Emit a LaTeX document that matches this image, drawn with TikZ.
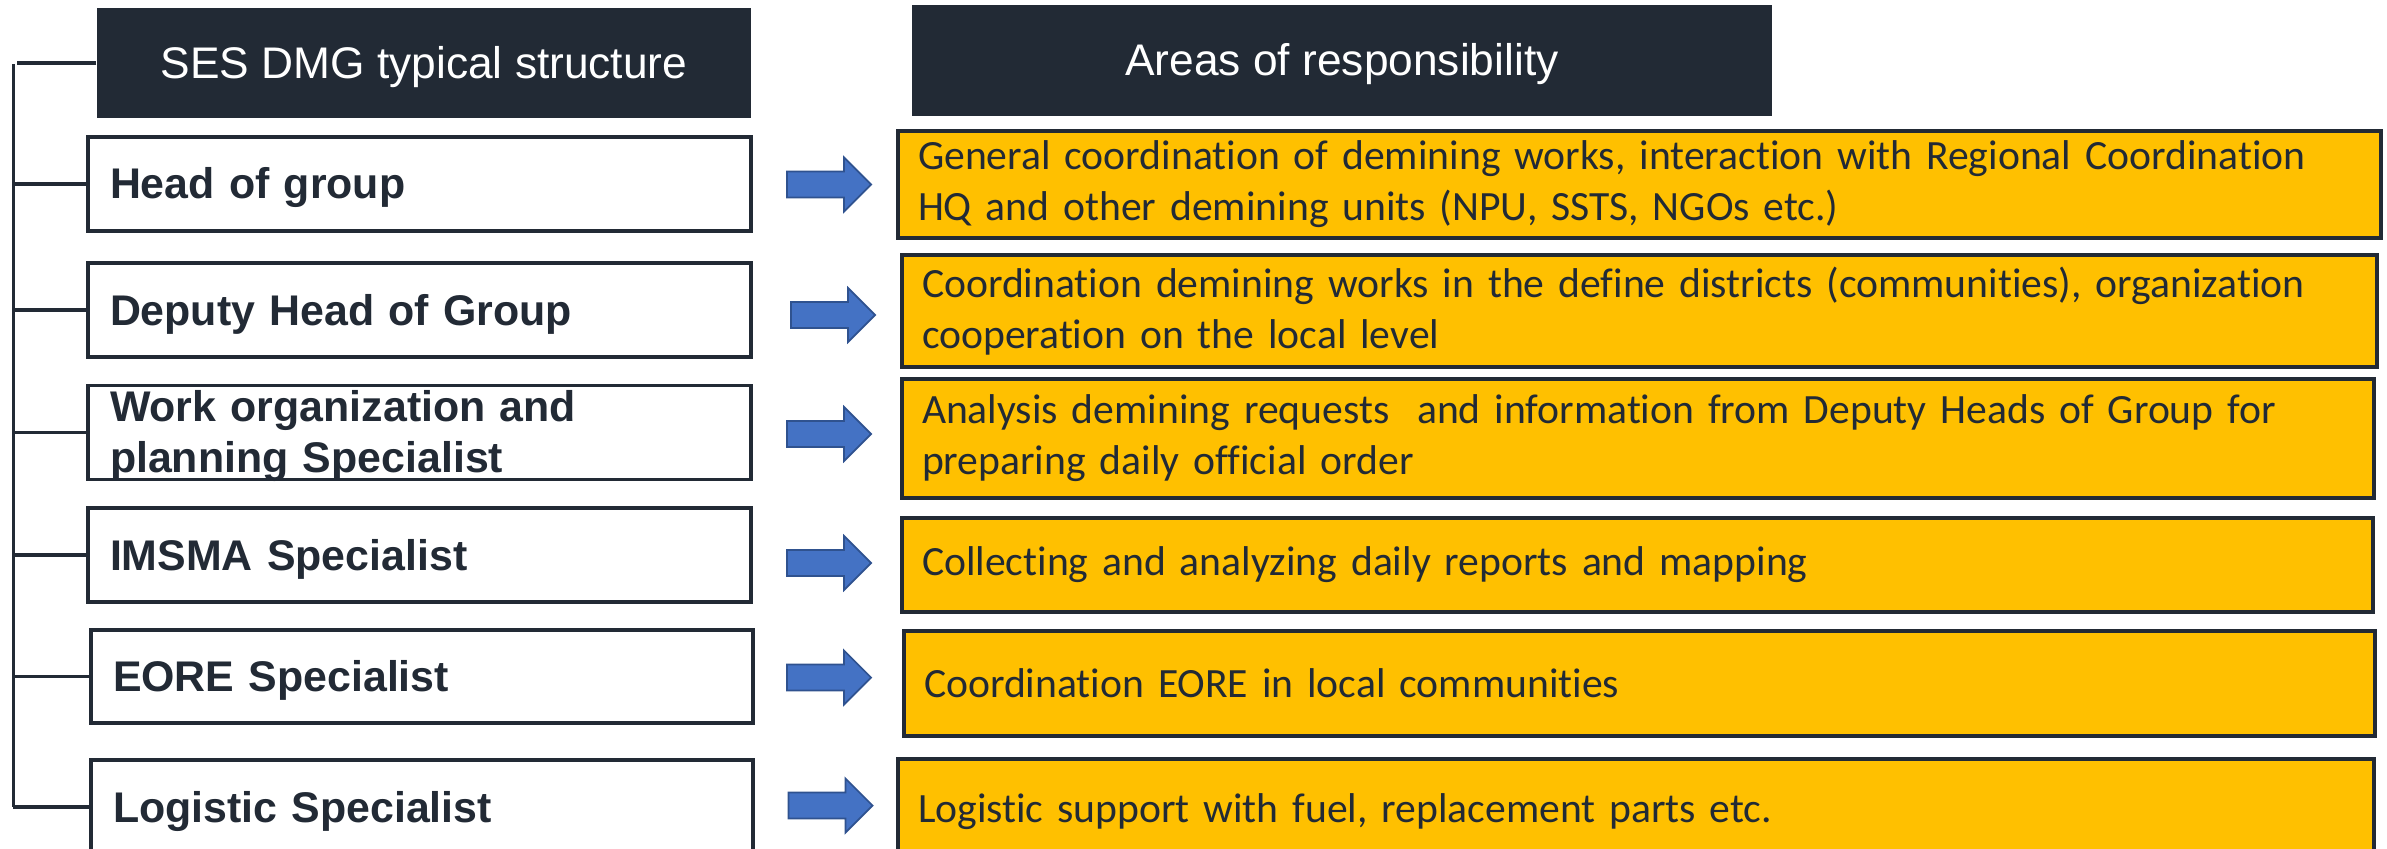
\documentclass[tikz,border=0pt]{standalone}
\usepackage{fontspec}
\setmainfont{Carlito}[Ligatures={NoCommon}]
\newfontfamily\labfont{Liberation Sans}
\definecolor{dark}{HTML}{222A35}
\definecolor{gold}{HTML}{FFC000}
\definecolor{arrowblue}{HTML}{4472C4}
\definecolor{arrowedge}{HTML}{2F528F}
\newcommand{\blockarrowat}[1]{%
  \filldraw[blockarrow] (#1) ++(-0.42,0.13) -- ++(0.57,0) -- ++(0,0.14)
    -- ++(0.27,-0.27) -- ++(-0.27,-0.27) -- ++(0,0.14) -- ++(-0.57,0) -- cycle;}
\begin{document}
\begin{tikzpicture}[
  hdr/.style={fill=dark, draw=none, text=white, inner sep=0pt,
    font=\labfont\fontsize{12.6}{15}\selectfont, text height=0.31cm, text depth=0cm},
  rolebox/.style={draw=dark, line width=0.9pt, fill=white, minimum height=0.94cm,
    text width=6.19cm, inner xsep=0.22cm, inner ysep=0pt, align=left, text=dark,
    font=\labfont\bfseries\fontsize{12.2}{14.5}\selectfont},
  oneline/.style={text height=0.30cm, text depth=0cm},
  dutybox/.style={draw=dark, line width=0.9pt, fill=gold, inner xsep=0.2cm,
    inner ysep=0pt, align=left, text=dark, font=\fontsize{11.85}{14.5}\selectfont},
  blockarrow/.style={fill=arrowblue, draw=arrowedge, line width=0.5pt, line join=miter},
  tree/.style={draw=dark, line width=1.1pt}
]
\useasboundingbox (0,0) rectangle (23.87,-8.49);
\clip (0,0) rectangle (23.87,-8.49);

% headers
\node[hdr, minimum width=6.54cm, minimum height=1.10cm] (hdr1) at (4.24,-0.63) {SES DMG typical structure};
\node[hdr, minimum width=8.60cm, minimum height=1.11cm] (hdr2) at (13.42,-0.605) {Areas of responsibility};

% roles
\node[rolebox, oneline] (r1) at (4.195,-1.84) {Head of group};
\node[rolebox, oneline] (r2) at (4.195,-3.10) {Deputy Head of Group};
\node[rolebox, minimum height=0.93cm, text height=0.36cm, text depth=0.58cm] (r3) at (4.195,-4.325) {Work organization and\\planning Specialist};
\node[rolebox, oneline] (r4) at (4.195,-5.55) {IMSMA Specialist};
\node[rolebox, oneline, minimum height=0.93cm, text width=6.18cm] (r5) at (4.22,-6.765) {EORE Specialist};
\node[rolebox, oneline, text width=6.18cm] (r6) at (4.22,-8.07) {Logistic Specialist};

% tree connectors
\coordinate (vtop) at (0.135,-0.64);
\coordinate (vbot) at (0.135,-8.07);
\draw[tree] (vtop) -- (vbot);
\draw[tree] (hdr1.west) -- ++(-0.79,0);
\foreach \n in {r1,r2,r3,r4,r5,r6}{
  \draw[tree] (\n.west) -- (\n.west -| vtop);
}

% duties
\node[dutybox, text width=14.43cm, minimum height=1.07cm] (d1) at (16.395,-1.845)
  {General coordination of demining works, interaction with Regional Coordination\\HQ and other demining units (NPU, SSTS, NGOs etc.)};
\node[dutybox, text width=14.35cm, minimum height=1.12cm] (d2) at (16.395,-3.11)
  {Coordination demining works in the define districts (communities), organization\\cooperation on the local level};
\node[dutybox, text width=14.32cm, minimum height=1.19cm] (d3) at (16.38,-4.385)
  {Analysis demining requests\ \ and information from Deputy Heads of Group for\\preparing daily official order};
\node[dutybox, text width=14.31cm, minimum height=0.94cm] (d4) at (16.375,-5.65)
  {Collecting and analyzing daily reports and mapping};
\node[dutybox, text width=14.31cm, minimum height=1.05cm] (d5) at (16.395,-6.835)
  {Coordination EORE in local communities};
\node[dutybox, text width=14.36cm, minimum height=1.05cm] (d6) at (16.36,-8.115)
  {Logistic support with fuel, replacement parts etc.};

% block arrows
\coordinate (a1) at (8.29,-1.845);
\coordinate (a2) at (8.33,-3.15);
\coordinate (a3) at (8.29,-4.34);
\coordinate (a4) at (8.29,-5.63);
\coordinate (a5) at (8.29,-6.775);
\coordinate (a6) at (8.305,-8.055);
\foreach \a in {a1,a2,a3,a4,a5,a6}{
  \blockarrowat{\a}
}
\end{tikzpicture}
\end{document}
